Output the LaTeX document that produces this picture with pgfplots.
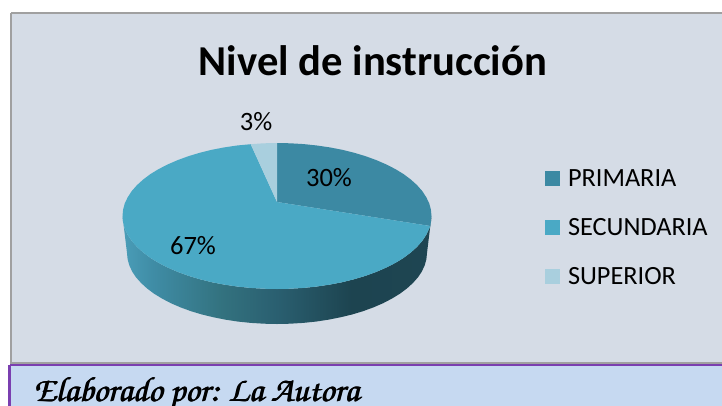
\documentclass[border=0pt]{standalone}
\usepackage[T1,TU]{fontenc}
\usepackage{fontspec}
\setmainfont{Carlito}
\usepackage{pgfplots}
\pgfplotsset{compat=1.18}

\definecolor{panel}{HTML}{D5DCE6}
\definecolor{panelline}{HTML}{A0A0A0}
\definecolor{footfill}{HTML}{C6D9F1}
\definecolor{footline}{HTML}{7A3FB0}
\definecolor{primaria}{HTML}{3C89A3}
\definecolor{secundaria}{HTML}{4AA9C5}
\definecolor{superior}{HTML}{A9CFDE}
\definecolor{s0}{HTML}{4A9DB8}
\definecolor{s1}{HTML}{3F8CA5}
\definecolor{s2}{HTML}{33727F}
\definecolor{s3}{HTML}{2A5F70}
\definecolor{s4}{HTML}{1D4450}
\definecolor{s5}{HTML}{1E4552}
\pgfdeclarehorizontalshading{pieside}{100bp}{
  color(0bp)=(s0); color(25bp)=(s0); color(30bp)=(s1); color(41bp)=(s2);
  color(50bp)=(s3); color(62bp)=(s4); color(75bp)=(s5); color(100bp)=(s5)}
\newcommand{\footfont}{\usefont{T1}{pzc}{mb}{it}\fontsize{35}{40}\selectfont}

\begin{document}
\begin{tikzpicture}
\path[use as bounding box] (0,0) rectangle (722pt,405pt);
\begin{axis}[
    at={(0,0)}, anchor=south west,
    scale only axis, width=722pt, height=405pt,
    xmin=0, xmax=722, ymin=0, ymax=405,
    y dir=reverse,
    hide axis,
    clip=true,
    every axis plot/.append style={no markers},
    legend image code/.code={\fill[#1] (0pt,0.5pt) rectangle (15pt,15.5pt);},
    legend style={at={(axis cs:545,177)}, anchor=north west, yshift=7pt,
        draw=none, fill=none, font=\fontsize{26.3}{30}\selectfont,
        row sep=30pt, inner sep=0pt, outer sep=0pt,
        /tikz/every odd column/.append style={column sep=8pt},
        nodes={inner sep=0pt, anchor=base west}},
    legend cell align=left,
]
% panel and footer
\addplot[forget plot, fill=panel, draw=panelline, line width=1.2pt] coordinates {(11,13) (740,13) (740,363) (11,363) (11,13)};
\addplot[forget plot, fill=footfill, draw=footline, line width=2.6pt] coordinates {(9.5,365) (740,365) (740,430) (9.5,430) (9.5,365)};

% side of the pie
\addplot[forget plot, shading=pieside, draw=none] coordinates {
(431.5,216) (430.9,222.4) (429.2,228.7) (426.2,234.9) (422.2,241.0) (417.0,246.9) (410.8,252.5) (403.6,257.9) (395.4,262.9)
(386.2,267.6) (376.3,271.9) (365.6,275.8) (354.3,279.2) (342.3,282.2) (329.8,284.6) (317.0,286.5) (303.8,287.9) (290.5,288.7)
(277,289) (263.5,288.7) (250.2,287.9) (237.0,286.5) (224.2,284.6) (211.7,282.2) (199.7,279.2) (188.4,275.8) (177.7,271.9)
(167.8,267.6) (158.6,262.9) (150.4,257.9) (143.2,252.5) (137.0,246.9) (131.8,241.0) (127.8,234.9) (124.8,228.7) (123.1,222.4) (122.5,216)
(127,253) (127.6,259.2) (129.3,265.3) (132.1,271.4) (136,277.3) (141.1,283) (147.1,288.5) (154.1,293.7) (162.1,298.6)
(170.9,303.2) (180.6,307.4) (191,311.2) (202,314.5) (213.6,317.3) (225.7,319.7) (238.2,321.6) (251,322.9) (263.9,323.7)
(277,324) (290.1,323.7) (303,322.9) (315.8,321.6) (328.3,319.7) (340.4,317.3) (352,314.5) (363,311.2) (373.4,307.4)
(383.1,303.2) (391.9,298.6) (399.9,293.7) (406.9,288.5) (412.9,283) (418,277.3) (421.9,271.4) (424.7,265.3) (426.4,259.2) (427,253)
(431.5,216)};

% PRIMARIA 30
\addplot[fill=primaria, draw=none] coordinates {
(277,202) (277,143) (290.5,143.3) (303.8,144.1) (317.0,145.5) (329.8,147.4) (342.3,149.8) (354.3,152.8) (365.6,156.2) (376.3,160.1)
(386.2,164.4) (395.4,169.1) (403.6,174.1) (410.8,179.5) (417.0,185.1) (422.2,191.0) (426.2,197.1) (429.2,203.3) (430.9,209.6)
(431.5,216) (430.9,222.4) (430.3,226) (277,202)};
% SECUNDARIA 67
\addplot[fill=secundaria, draw=none] coordinates {
(277,202) (430.3,226) (429.2,228.7) (426.2,234.9) (422.2,241.0) (417.0,246.9) (410.8,252.5) (403.6,257.9) (395.4,262.9)
(386.2,267.6) (376.3,271.9) (365.6,275.8) (354.3,279.2) (342.3,282.2) (329.8,284.6) (317.0,286.5) (303.8,287.9) (290.5,288.7)
(277,289) (263.5,288.7) (250.2,287.9) (237.0,286.5) (224.2,284.6) (211.7,282.2) (199.7,279.2) (188.4,275.8) (177.7,271.9)
(167.8,267.6) (158.6,262.9) (150.4,257.9) (143.2,252.5) (137.0,246.9) (131.8,241.0) (127.8,234.9) (124.8,228.7) (123.1,222.4) (122.5,216)
(123.1,209.6) (124.8,203.3) (127.8,197.1) (131.8,191.0) (137.0,185.1) (143.2,179.5) (150.4,174.1) (158.6,169.1) (167.8,164.4)
(177.7,160.1) (188.4,156.2) (199.7,152.8) (211.7,149.8) (224.2,147.4) (237.0,145.5) (250.7,144.2) (277,202)};
% SUPERIOR 3
\addplot[fill=superior, draw=none] coordinates {(277,202) (250.7,144.2) (263.5,143.3) (277,143) (277,202)};

\legend{PRIMARIA, SECUNDARIA, SUPERIOR}

\node[font=\bfseries\fontsize{42.6}{46}\selectfont] at (axis cs:373,61) {Nivel de instrucción};
\node[font=\fontsize{26.5}{30}\selectfont] at (axis cs:329,178) {30\%};
\node[font=\fontsize{26.5}{30}\selectfont] at (axis cs:193,246) {67\%};
\node[font=\fontsize{26.5}{30}\selectfont] at (axis cs:256,122) {3\%};
\node[anchor=base west, inner sep=0pt, font=\footfont] at (axis cs:33.5,401) {Elaborado por: La Autora};
\node[anchor=base west, inner sep=0pt, font=\footfont] at (axis cs:34,401) {Elaborado por: La Autora};
\node[anchor=base west, inner sep=0pt, font=\footfont] at (axis cs:34.5,401) {Elaborado por: La Autora};
\end{axis}
\end{tikzpicture}
\end{document}
